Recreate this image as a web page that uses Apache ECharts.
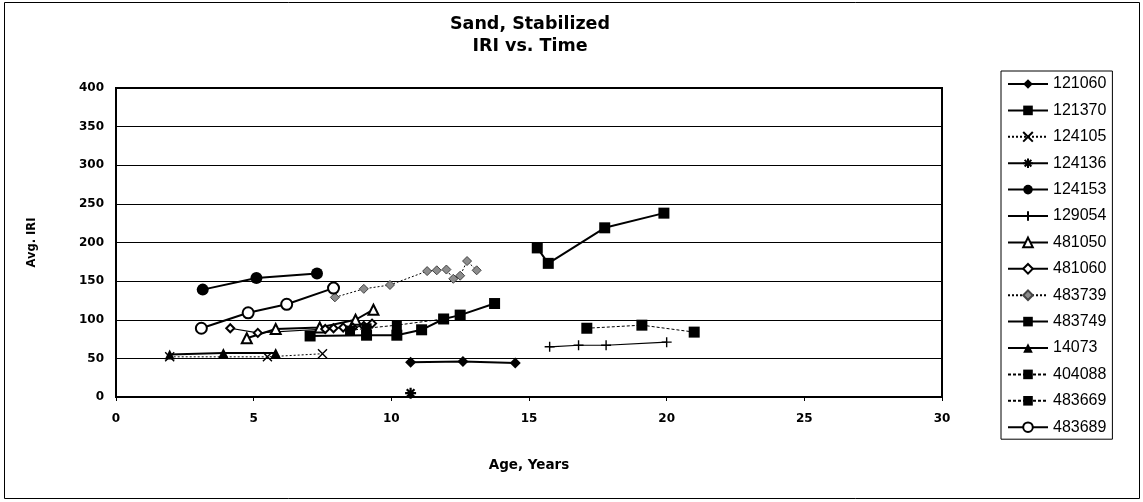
<!DOCTYPE html>
<html>
<head>
<meta charset="utf-8">
<script src="https://cdn.jsdelivr.net/npm/echarts@6/dist/echarts.min.js"></script>
<style>
  html, body { margin: 0; padding: 0; background: #ffffff; }
  #chart { width: 1143px; height: 502px; }
</style>
</head>
<body>
<div id="chart"></div>
<script>
// IRI (in/mi) by pavement age (years) for each test section, sand-stabilized base
const s121060 = [[10.7, 45], [12.6, 46], [14.5, 44]];
const s121370 = [[15.3, 193], [15.7, 173], [17.75, 219], [19.9, 238]];
const s124105 = [[1.95, 52], [5.5, 52], [7.5, 56]];
const s124136 = [[10.7, 5]];
const s124153 = [[3.15, 139], [5.1, 154], [7.3, 160]];
const s129054 = [[15.75, 65], [16.8, 67], [17.8, 67], [20.0, 71]];
const s481050 = [[4.75, 76], [5.8, 88], [7.4, 90], [8.7, 100], [9.35, 113]];
const s481060 = [[4.15, 89], [5.15, 83], [7.6, 88], [7.9, 89], [8.25, 90], [8.6, 90], [9.0, 92], [9.3, 95]];
const s483739 = [[7.95, 129], [9.0, 140], [9.95, 145], [11.3, 163], [11.65, 164], [12.0, 165], [12.25, 153], [12.5, 157], [12.75, 176], [13.1, 164]];
const s483749 = [[7.05, 79], [9.1, 80], [10.2, 80], [11.1, 87], [11.9, 101], [12.5, 106], [13.75, 121]];
const s14073 = [[1.95, 55], [3.9, 57], [5.8, 57]];
const s404088 = [[8.5, 86], [9.1, 89], [10.2, 93], [11.9, 101]];
const s483669 = [[17.1, 89], [19.1, 93], [21.0, 84]];
const s483689 = [[3.1, 89], [4.8, 109], [6.2, 120], [7.9, 141]];

const xTicks = { min: 0, max: 30, interval: 5 };
const yTicks = { min: 0, max: 400, interval: 50 };

// marker shapes not built into the library
const SYM_X = 'path://M0,0L10,10M10,0L0,10';
const SYM_PLUS = 'path://M5,0L5,10M0,5L10,5';
const SYM_STAR = 'path://M5,0L5,10M0,5L10,5M1.5,1.5L8.5,8.5M8.5,1.5L1.5,8.5';

function mk(name, data, sym, size, opts) {
  opts = opts || {};
  return {
    name: name,
    type: 'line',
    data: data,
    symbol: sym,
    symbolSize: size,
    showAllSymbol: true,
    lineStyle: { color: opts.lineColor || '#000', width: opts.lw || 2, type: opts.dash || 'solid' },
    itemStyle: {
      color: opts.fill || '#000',
      borderColor: opts.border || '#000',
      borderWidth: opts.bw != null ? opts.bw : 0
    },
    emphasis: { disabled: true },
    z: 3
  };
}

const series = [
  mk('121060', s121060, 'diamond', 11),
  mk('121370', s121370, 'rect', 11),
  mk('124105', s124105, SYM_X, 9, { lw: 1, dash: [2, 2], fill: 'none', bw: 1.4 }),
  mk('124136', s124136, SYM_STAR, 11, { fill: 'none', bw: 2.2 }),
  mk('124153', s124153, 'circle', 12),
  mk('129054', s129054, SYM_PLUS, 10, { lw: 1.2, fill: 'none', bw: 1.4 }),
  mk('481050', s481050, 'emptyTriangle', 10, { bw: 1.8 }),
  mk('481060', s481060, 'emptyDiamond', 8, { lw: 1.2, bw: 1.5 }),
  mk('483739', s483739, 'diamond', 9, { lw: 1, dash: [2, 2], fill: '#8c8c8c', border: '#444', bw: 1 }),
  mk('483749', s483749, 'rect', 11),
  mk('14073', s14073, 'triangle', 10),
  mk('404088', s404088, 'rect', 10, { lw: 1, dash: [3, 2] }),
  mk('483669', s483669, 'rect', 11, { lw: 1, dash: [3, 2] }),
  mk('483689', s483689, 'emptyCircle', 11, { bw: 2 })
];

const chart = echarts.init(document.getElementById('chart'), null, { renderer: 'canvas' });
chart.setOption({
  animation: false,
  backgroundColor: '#ffffff',
  title: {
    text: 'Sand, Stabilized\nIRI vs. Time',
    left: 525,
    top: 8,
    textAlign: 'center',
    textStyle: {
      fontFamily: 'DejaVu Sans',
      fontWeight: 'bold',
      fontSize: 17.5,
      lineHeight: 22,
      color: '#000'
    }
  },
  graphic: [{
    type: 'rect',
    shape: { x: 4.5, y: 2.5, width: 1135, height: 496 },
    style: { fill: 'none', stroke: '#000', lineWidth: 1 },
    silent: true,
    z: 0
  }],
  legend: {
    orient: 'vertical',
    left: 1001,
    top: 71,
    padding: [5, 6, 4, 6],
    itemWidth: 40,
    itemHeight: 12,
    itemGap: 10.4,
    borderColor: '#000',
    borderWidth: 1,
    textStyle: { fontFamily: 'Liberation Sans', fontSize: 16, color: '#000' },
    data: series.map(function (s) { return s.name; })
  },
  grid: {
    left: 116,
    right: 201,
    top: 88,
    bottom: 105,
    show: true,
    borderColor: '#000',
    borderWidth: 2,
    backgroundColor: '#fff'
  },
  xAxis: {
    type: 'value',
    min: xTicks.min,
    max: xTicks.max,
    interval: xTicks.interval,
    name: 'Age, Years',
    nameLocation: 'middle',
    nameGap: 61,
    nameTextStyle: { fontFamily: 'DejaVu Sans', fontWeight: 'bold', fontSize: 13.5, color: '#000' },
    axisLine: { show: true, lineStyle: { color: '#000', width: 2 } },
    axisTick: { show: true, length: 4, lineStyle: { color: '#000', width: 1 } },
    axisLabel: { margin: 16, fontFamily: 'DejaVu Sans', fontWeight: 'bold', fontSize: 12, color: '#000' },
    splitLine: { show: false }
  },
  yAxis: {
    type: 'value',
    min: yTicks.min,
    max: yTicks.max,
    interval: yTicks.interval,
    name: 'Avg. IRI',
    nameLocation: 'middle',
    nameGap: 78,
    nameRotate: 90,
    nameTextStyle: { fontFamily: 'DejaVu Sans', fontWeight: 'bold', fontSize: 11.5, color: '#000' },
    axisLine: { show: true, lineStyle: { color: '#000', width: 2 } },
    axisTick: { show: false },
    axisLabel: { margin: 12, fontFamily: 'DejaVu Sans', fontWeight: 'bold', fontSize: 12, color: '#000' },
    splitLine: { show: true, lineStyle: { color: '#000', width: 1 } }
  },
  series: series
});
</script>
</body>
</html>
